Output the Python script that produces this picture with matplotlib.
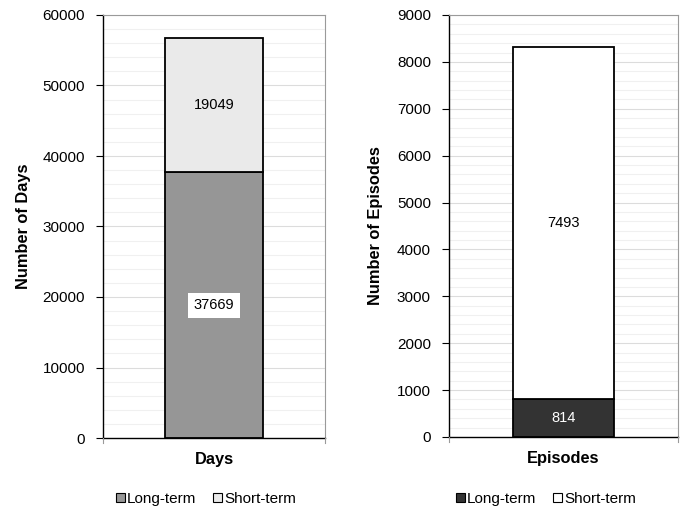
import matplotlib
matplotlib.use("Agg")
import matplotlib.pyplot as plt
from matplotlib.patches import Patch
import numpy as np

plt.rcParams['font.family'] = ['Liberation Sans', 'DejaVu Sans']

series = ["Long-term", "Short-term"]
days_values = [37669, 19049]
episode_values = [814, 7493]
days_colors = ["#969696", "#eaeaea"]
episode_colors = ["#333333", "#ffffff"]

fig = plt.figure(figsize=(6.82, 5.14), dpi=100)
W, H = 682, 514


def panel(rect, category, values, colors, ylabel, ymax, major, minor,
          label_styles, legend_x, ylabelpad):
    l, t, r, b = rect
    ax = fig.add_axes([l / W, 1 - b / H, (r - l) / W, (b - t) / H])
    ax.set_xlim(-0.5, 0.5)
    ax.set_ylim(0, ymax)
    # light gridlines
    for y in np.arange(minor, ymax + 1, minor):
        is_major = abs(y / major - round(y / major)) < 1e-9
        ax.axhline(y, color="#dcdcdc" if is_major else "#f0f0f0",
                   lw=0.8, zorder=0)
    bottom = 0
    for v, c, style in zip(values, colors, label_styles):
        ax.bar(0, v, width=0.437, bottom=bottom, color=c,
               edgecolor="black", linewidth=1.3, zorder=2)
        ax.text(0, bottom + v / 2, str(v), ha="center", va="center",
                fontsize=10.5, zorder=3, **style)
        bottom += v
    ax.set_yticks(np.arange(0, ymax + 1, major))
    ax.set_xticks([])
    ax.tick_params(axis="y", length=5, width=0.8, labelsize=11,
                   colors="black", pad=8)
    for s in ["top", "right"]:
        ax.spines[s].set_color("#9a9a9a")
        ax.spines[s].set_linewidth(0.8)
    ax.spines["left"].set_linewidth(1.0)
    ax.spines["bottom"].set_linewidth(1.0)
    # tick marks at both ends of the category axis
    for xe in (-0.5, 0.5):
        ax.plot([xe, xe], [0, -ymax * 0.012], color="#9a9a9a", lw=0.8,
                clip_on=False, zorder=4)
    ax.set_ylabel(ylabel, fontsize=11.8, fontweight="bold",
                  labelpad=ylabelpad)
    ax.set_xlabel(category, fontsize=11.8, fontweight="bold", labelpad=10)
    handles = [Patch(facecolor=c, edgecolor="black", linewidth=0.8)
               for c in colors]
    fig.legend(handles, series, loc="center",
               bbox_to_anchor=(legend_x / W, 1 - 499 / H),
               ncol=2, frameon=False, fontsize=11,
               handlelength=0.6, handleheight=0.6, handletextpad=0.15,
               columnspacing=1.1)
    return ax


panel((103, 15, 325, 438), "Days", days_values, days_colors,
      "Number of Days", 60000, 10000, 2000,
      [dict(color="black", bbox=dict(facecolor="white", edgecolor="none",
                                      pad=4)),
       dict(color="black")], 206, 8)
panel((449, 15, 678, 437), "Episodes", episode_values, episode_colors,
      "Number of Episodes", 9000, 1000, 200,
      [dict(color="white"), dict(color="black")], 546, 10)

fig.savefig("out.png", dpi=100)
